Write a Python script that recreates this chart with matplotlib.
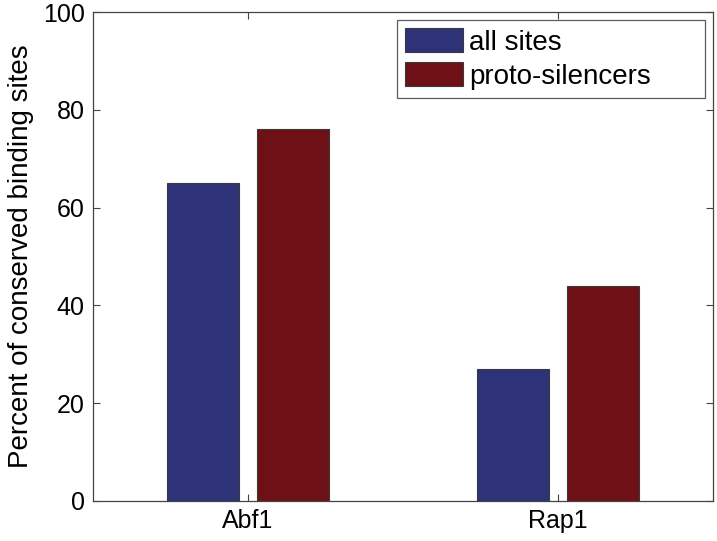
import numpy as np
import matplotlib.pyplot as plt

plt.rcParams['font.family'] = ['Liberation Sans', 'DejaVu Sans']

# Data
categories = ["Abf1", "Rap1"]
all_sites = [65, 27]
proto_silencers = [76, 44]
series_labels = ["all sites", "proto-silencers"]
yticks = [0, 20, 40, 60, 80, 100]


def main():
    fig = plt.figure(figsize=(7.17, 5.41), dpi=100)
    ax = fig.add_axes([93 / 717, 1 - 501 / 541, 620 / 717, 489 / 541])

    x = np.arange(1, len(categories) + 1)
    width = 0.235
    offset = 0.145
    ax.bar(x - offset, all_sites, width, color="#2e3279", edgecolor="#3a3a3a",
           linewidth=0.8, label=series_labels[0])
    ax.bar(x + offset, proto_silencers, width, color="#6e1116", edgecolor="#3a3a3a",
           linewidth=0.8, label=series_labels[1])

    ax.set_xlim(0.5, 2.5)
    ax.set_ylim(0, 100)
    ax.set_xticks(x)
    ax.set_xticklabels(categories)
    ax.set_yticks(yticks)
    ax.tick_params(direction="in", top=True, right=True, labelsize=18,
                   length=5, width=0.8, color="#444444", pad=6)
    for s in ax.spines.values():
        s.set_color("#444444")
        s.set_linewidth(0.9)
    ax.set_ylabel("Percent of conserved binding sites", fontsize=20, labelpad=6)

    # MATLAB-style legend box, stretched wider than its text
    leg = ax.legend(loc="upper left", mode="expand", fontsize=20, frameon=True,
                    fancybox=False, edgecolor="#333333", handlelength=2.1,
                    handleheight=0.95, handletextpad=0.2, borderaxespad=0,
                    labelspacing=0.22, borderpad=0.3,
                    bbox_to_anchor=(0.490, 0, 0.497, 0.9836))
    leg.get_frame().set_linewidth(0.9)

    fig.savefig("out.png", dpi=100)


if __name__ == "__main__":
    main()
